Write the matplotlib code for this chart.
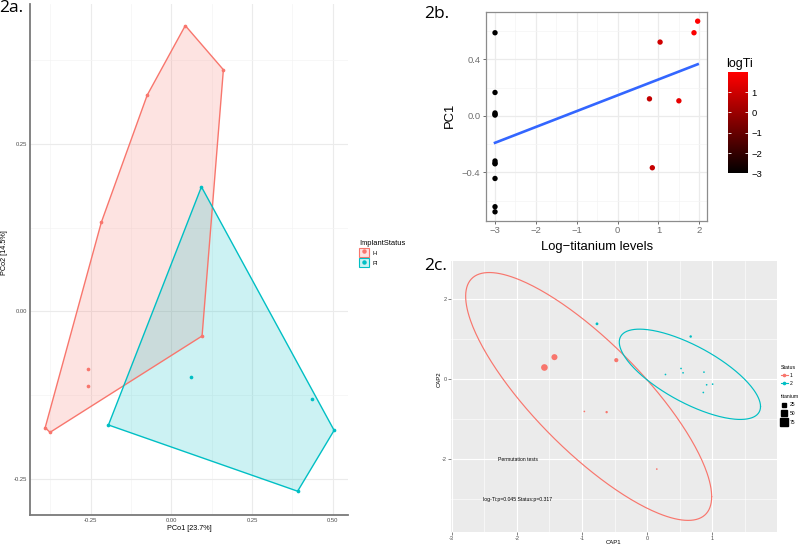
import numpy as np
import matplotlib.pyplot as plt
from matplotlib.colors import LinearSegmentedColormap
from matplotlib.lines import Line2D
from matplotlib.patches import Patch
from matplotlib.legend_handler import HandlerTuple

plt.rcParams['font.family'] = ['Liberation Sans', 'DejaVu Sans']

W, H = 800, 544
RED = '#F8766D'
TEAL = '#00BFC4'

# ---- 2a: PCoA by implant status
h_x = [0.043, 0.161, -0.075, -0.217, 0.095, -0.259, -0.259, -0.391, -0.376]
h_y = [0.427, 0.361, 0.323, 0.133, -0.037, -0.086, -0.111, -0.174, -0.181]
pi_x = [0.093, 0.062, 0.435, 0.504, 0.391, -0.195]
pi_y = [0.186, -0.099, -0.131, -0.178, -0.269, -0.170]
status_labels = ['H', 'PI']

# ---- 2b: PC1 vs log titanium
logti = [-3, -3, -3, -3, -3, -3, -3, -3, -3, -3, -3,
         1.96, 1.87, 1.04, 0.78, 1.50, 0.85]
pc1 = [0.588, 0.165, 0.020, 0.010, 0.005, -0.320, -0.335, -0.340, -0.444, -0.644, -0.680,
       0.670, 0.588, 0.522, 0.120, 0.106, -0.368]

# ---- 2c: CAP ordination
cap1_s1 = [-1.577, -1.423, -0.474, -0.964, -0.622, 0.148]
cap2_s1 = [0.291, 0.549, 0.474, -0.806, -0.823, -2.244]
ti_s1 = [91, 74, 32, 0, 6, 0]
cap1_s2 = [-0.770, 0.668, 0.281, 0.520, 0.551, 0.872, 0.913, 1.005, 0.862]
cap2_s2 = [1.380, 1.064, 0.116, 0.266, 0.158, 0.175, -0.141, -0.125, -0.333]
ti_s2 = [11, 7, 0, 0, 0, 0, 0, 0, 0]
# ellipse centre and shape (x = cx + a cos t, y = cy + b cos t + c sin t)
ell_s1 = [-0.898, -0.432, 1.888, -2.500, -1.820]
ell_s2 = [0.656, 0.121, 1.084, -0.804, -0.789]
ti_legend = [25, 50, 75]


def rect(x0, y0, x1, y1):
    return [x0 / W, 1 - y1 / H, (x1 - x0) / W, (y1 - y0) / H]


def hull(xs, ys):
    pts = sorted(zip(xs, ys))
    def cross(o, a, b):
        return (a[0]-o[0])*(b[1]-o[1]) - (a[1]-o[1])*(b[0]-o[0])
    lower, upper = [], []
    for p in pts:
        while len(lower) >= 2 and cross(lower[-2], lower[-1], p) <= 0:
            lower.pop()
        lower.append(p)
    for p in reversed(pts):
        while len(upper) >= 2 and cross(upper[-2], upper[-1], p) <= 0:
            upper.pop()
        upper.append(p)
    return lower[:-1] + upper[:-1]


def tsize(v):
    return 1.5 + 0.236 * np.asarray(v, dtype=float)


fig = plt.figure(figsize=(8, 5.44), dpi=100)

# ================= 2a
ax = fig.add_axes(rect(30, 3.5, 348, 515.3))
for xs, ys, c in [(h_x, h_y, RED), (pi_x, pi_y, TEAL)]:
    poly = hull(xs, ys)
    ax.fill([p[0] for p in poly], [p[1] for p in poly], facecolor=c, alpha=0.2,
            edgecolor='none', zorder=2)
    closed = poly + poly[:1]
    ax.plot([p[0] for p in closed], [p[1] for p in closed], color=c, lw=1, zorder=3)
    ax.scatter(xs, ys, s=7, color=c, zorder=4, linewidths=0)
ax.set_xlim(-0.438, 0.547)
ax.set_ylim(-0.305, 0.46)
ax.set_xticks([-0.25, 0, 0.25, 0.5])
ax.set_xticklabels(['-0.25', '0.00', '0.25', '0.50'])
ax.set_yticks([-0.25, 0, 0.25])
ax.set_yticklabels(['-0.25', '0.00', '0.25'])
ax.set_xticks([-0.375, -0.125, 0.125, 0.375], minor=True)
ax.set_yticks([-0.125, 0.125, 0.375], minor=True)
ax.grid(which='major', color='#EBEBEB', lw=0.8)
ax.grid(which='minor', color='#F4F4F4', lw=0.5)
ax.set_axisbelow(True)
for s in ['top', 'right']:
    ax.spines[s].set_visible(False)
for s in ['left', 'bottom']:
    ax.spines[s].set_color('#7A7A7A')
    ax.spines[s].set_linewidth(1.3)
ax.tick_params(which='both', length=0, labelsize=4.2, colors='#4D4D4D', pad=2)
fig.text(189 / W, 1 - 529 / H, 'PCo1 [23.7%]', fontsize=5.2, ha='center', va='center')
fig.text(5 / W, 1 - 253 / H, 'PCo2 [14.5%]', fontsize=5.2, ha='center', va='center',
         rotation=90)

handles = []
for c in [RED, TEAL]:
    handles.append((Patch(facecolor=c, alpha=0.2, edgecolor='none'),
                    Patch(facecolor='none', edgecolor=c, lw=0.8),
                    Line2D([], [], marker='o', color=c, ls='none', ms=2.2)))
ax.legend(handles, status_labels, title='ImplantStatus', loc='upper left',
          bbox_to_anchor=(359 / W, 1 - 240 / H), bbox_transform=fig.transFigure,
          frameon=False, fontsize=4.2, title_fontsize=5.4, handlelength=1.75,
          handleheight=2.0, handletextpad=0.5, borderpad=0, borderaxespad=0,
          labelspacing=0.2, alignment='left',
          handler_map={tuple: HandlerTuple(ndivide=1)})

# ================= 2b
ax2 = fig.add_axes(rect(485.7, 12, 706.7, 220.7))
cmap = LinearSegmentedColormap.from_list('ti', ['#000000', '#FF0000'])
sc = ax2.scatter(logti, pc1, c=logti, cmap=cmap, vmin=min(logti), vmax=max(logti),
                 s=15, zorder=3, linewidths=0)
coef = np.polyfit(logti, pc1, 1)
lx = np.array([min(logti), max(logti)])
ax2.plot(lx, np.polyval(coef, lx), color='#3366FF', lw=1.9, zorder=4)
ax2.set_xlim(-3.228, 2.181)
ax2.set_ylim(-0.743, 0.735)
ax2.set_xticks([-3, -2, -1, 0, 1, 2])
ax2.set_yticks([-0.4, 0.0, 0.4])
ax2.set_xticks([-2.5, -1.5, -0.5, 0.5, 1.5], minor=True)
ax2.set_yticks([-0.6, -0.2, 0.2, 0.6], minor=True)
ax2.grid(which='major', color='#EBEBEB', lw=0.9)
ax2.grid(which='minor', color='#F4F4F4', lw=0.5)
ax2.set_axisbelow(True)
for s in ax2.spines.values():
    s.set_color('#8C8C8C')
    s.set_linewidth(0.9)
ax2.tick_params(which='major', length=2.2, width=0.6, color='#555555',
                labelsize=6.8, labelcolor='#6E6E6E', pad=1.5)
ax2.tick_params(which='minor', length=0)
fig.text(597 / W, 1 - 247 / H, 'Log\u2212titanium levels', fontsize=9.4,
         ha='center', va='center')
fig.text(450 / W, 1 - 115 / H, 'PC1', fontsize=9.4, ha='center', va='center',
         rotation=90)

cax = fig.add_axes(rect(728, 72.5, 748, 173.5))
cb = fig.colorbar(sc, cax=cax, ticks=[-3, -2, -1, 0, 1])
cb.outline.set_visible(False)
cax.tick_params(direction='in', length=2.5, width=0.6, color='white',
                left=True, right=True, labelsize=6.8, pad=2.5)
fig.text(726 / W, 1 - 64 / H, 'logTi', fontsize=9, ha='left', va='center')

# ================= 2c
ax3 = fig.add_axes(rect(451, 261, 777, 532))
ax3.set_facecolor('#EBEBEB')
t = np.linspace(0, 2 * np.pi, 300)
for e, c in [(ell_s1, RED), (ell_s2, TEAL)]:
    ex = e[0] + e[2] * np.cos(t)
    ey = e[1] + e[3] * np.cos(t) + e[4] * np.sin(t)
    ax3.plot(ex, ey, color=c, lw=0.85, zorder=3)
ax3.scatter(cap1_s1, cap2_s1, s=tsize(ti_s1), color=RED, linewidths=0, zorder=4)
ax3.scatter(cap1_s2, cap2_s2, s=tsize(ti_s2), color=TEAL, linewidths=0, zorder=4)
ax3.text(-1.98, -2.0, 'Permutation tests', fontsize=3.7, ha='center', va='center')
ax3.text(-1.985, -3.0, 'log-Ti:p=0.045 Status:p=0.317', fontsize=3.7,
         ha='center', va='center')
ax3.set_xlim(-3.011, 1.993)
ax3.set_ylim(-3.814, 2.948)
ax3.set_xticks([-3, -2, -1, 0, 1])
ax3.set_xticklabels(['-3', '-2', '-1', '0', '1'])
ax3.set_yticks([-2, 0, 2])
ax3.set_yticklabels(['-2', '0', '2'])
ax3.set_xticks([-2.5, -1.5, -0.5, 0.5, 1.5], minor=True)
ax3.set_yticks([-3, -1, 1], minor=True)
ax3.grid(which='major', color='white', lw=0.8)
ax3.grid(which='minor', color='white', lw=0.4)
ax3.set_axisbelow(True)
for s in ax3.spines.values():
    s.set_visible(False)
ax3.tick_params(which='major', length=2, width=0.5, color='#555555',
                labelsize=4, labelcolor='#4D4D4D', pad=1)
ax3.tick_params(which='minor', length=0)
fig.text(614 / W, 1 - 542 / H, 'CAP1', fontsize=4.3, ha='center', va='center')
fig.text(439 / W, 1 - 379 / H, 'CAP2', fontsize=4.3, ha='center', va='center',
         rotation=90)

st_handles = [Line2D([0], [0], color=c, lw=0.8, marker='o', ms=1.6) for c in [RED, TEAL]]
leg1 = ax3.legend(st_handles, ['1', '2'], title='Status', loc='upper left',
                  bbox_to_anchor=(781 / W, 1 - 365 / H), bbox_transform=fig.transFigure,
                  frameon=False, fontsize=3.6, title_fontsize=3.8, handlelength=1.3,
                  handletextpad=0.4, borderpad=0, borderaxespad=0, labelspacing=0.6,
                  alignment='left')
ax3.add_artist(leg1)
ti_handles = [Line2D([0], [0], color='black', ls='none', marker='s',
                     ms=np.sqrt(tsize(v)) * 1.2) for v in ti_legend]
ax3.legend(ti_handles, [str(v) for v in ti_legend], title='titanium', loc='upper left',
           bbox_to_anchor=(781 / W, 1 - 394 / H), bbox_transform=fig.transFigure,
           frameon=False, fontsize=3.6, title_fontsize=3.7, handlelength=1.3,
           handletextpad=0.4, borderpad=0, borderaxespad=0, labelspacing=0.7,
           alignment='left')

# panel letters
for x, y, lab in [(-1, 8, '2a.'), (424, 14, '2b.'), (424, 266, '2c.')]:
    fig.text(x / W, 1 - y / H, lab, fontsize=12.5, family=['Open Sans', 'DejaVu Sans'],
             ha='left', va='center')

fig.savefig('out.png', dpi=100)
